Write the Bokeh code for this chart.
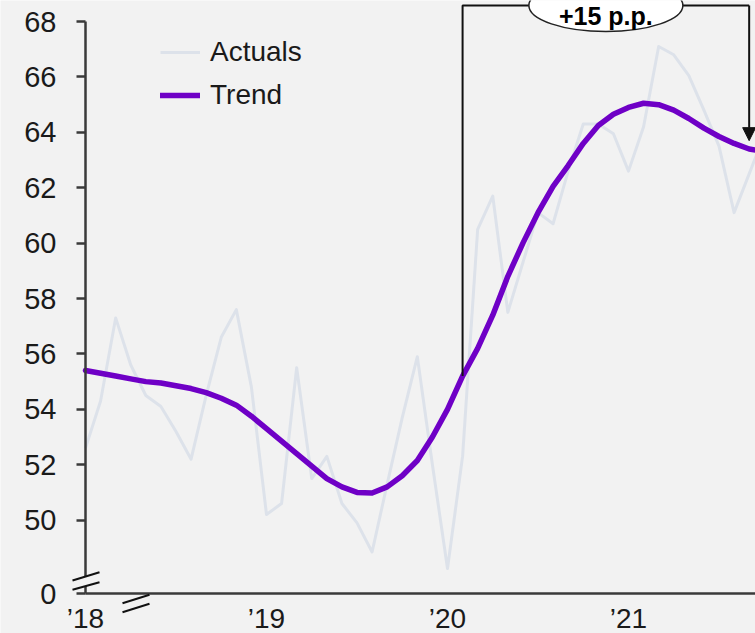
import numpy as np
from bokeh.plotting import figure
from bokeh.models import (Range1d, FixedTicker, Legend, LegendItem, Arrow,
                          NormalHead)
from bokeh.core.properties import value
from bokeh.embed import file_html
from bokeh.resources import INLINE

# ---- data -------------------------------------------------------------
start_year = 2018
month_index = list(range(46))  # monthly observations from Jan 2018

actuals = [52.6, 54.3, 57.3, 55.6, 54.5, 54.1, 53.2, 52.2, 54.5, 56.6,
           57.6, 54.8, 50.2, 50.6, 55.5, 51.5, 52.3, 50.6, 49.9, 48.85,
           51.3, 53.7, 55.9, 52.0, 48.25, 52.3, 60.5, 61.7, 57.5, 59.3,
           61.1, 60.7, 62.6, 64.3, 64.3, 63.95, 62.6, 64.2, 67.1, 66.8,
           66.05, 64.8, 63.5, 61.1, 62.5, 63.9]

trend = [55.4, 55.3, 55.2, 55.1, 55.0, 54.95, 54.85, 54.75, 54.6, 54.4,
         54.15, 53.75, 53.3, 52.85, 52.4, 51.95, 51.5, 51.2, 51.0, 50.98,
         51.2, 51.6, 52.15, 53.0, 54.0, 55.2, 56.2, 57.4, 58.8, 60.0,
         61.1, 62.05, 62.8, 63.6, 64.25, 64.65, 64.9, 65.05, 65.0, 64.8,
         64.5, 64.15, 63.85, 63.6, 63.4, 63.3]

year_ticks = [2018, 2019, 2020, 2021]
year_labels = ["\u201918", "\u201919", "\u201920", "\u201921"]
y_ticks = [50, 52, 54, 56, 58, 60, 62, 64, 66, 68]
axis_break_value = 47.35          # where the broken axis shows "0"
change_label = "+15 p.p."
change_from, change_to = 25, 44   # months joined by the bracket

x = [start_year + i / 12 for i in month_index]

# ---- styling / layout --------------------------------------------------
BG = "#f2f2f2"
TEXT = "#1a1a1a"
AXIS = "#3a3a3a"
ACT_COLOR = "#dde2ea"
TREND_COLOR = "#6f00c6"
FONT = "Liberation Sans"

W, H = 755, 633
AXIS_X_PX, AXIS_Y_PX = 85, 593     # where the two axis lines sit
px_per_year = 181.0
y_top = 68.76
px_per_unit = AXIS_Y_PX / (y_top - axis_break_value)
x_start = start_year - AXIS_X_PX / px_per_year
x_end = x_start + W / px_per_year
y_start = y_top - H / px_per_unit


def px_x(px):
    """canvas pixel column -> data x"""
    return x_start + px / px_per_year


def px_y(py):
    """canvas pixel row -> data y"""
    return y_top - py / px_per_unit


p = figure(width=W, height=H, output_backend="svg", toolbar_location=None,
           x_range=Range1d(x_start, x_end), y_range=Range1d(y_start, y_top),
           min_border=0, background_fill_color=BG, border_fill_color=BG,
           outline_line_color=None)
p.grid.visible = False

# y axis, pinned at the first month
p.yaxis.fixed_location = start_year
p.yaxis.ticker = FixedTicker(ticks=[axis_break_value] + y_ticks)
p.yaxis.major_label_overrides = {axis_break_value: "0"}
p.yaxis.bounds = (axis_break_value, 68)
p.yaxis.minor_tick_line_color = None
p.yaxis.major_tick_in = 0
p.yaxis.major_tick_out = 9
p.yaxis.major_label_standoff = 20
p.yaxis.major_tick_line_color = AXIS

# x axis, pinned at the axis break
p.xaxis.fixed_location = axis_break_value
p.xaxis.ticker = FixedTicker(ticks=year_ticks)
p.xaxis.major_label_overrides = dict(zip(year_ticks, year_labels))
p.xaxis.bounds = (start_year, x_end)
p.xaxis.minor_tick_line_color = None
p.xaxis.major_tick_line_color = None
p.xaxis.major_tick_in = 0
p.xaxis.major_tick_out = 0
p.xaxis.major_label_standoff = 9
p.xaxis.major_label_text_line_height = 1.0

for ax in (p.xaxis, p.yaxis):
    ax.axis_line_color = AXIS
    ax.axis_line_width = 2.5
    ax.major_tick_line_width = 2.5
    ax.major_label_text_font = FONT
    ax.major_label_text_font_size = "29px"
    ax.major_label_text_color = TEXT
p.xaxis.major_label_text_font_size = "28px"

# series
r_act = p.line(x, actuals, color=ACT_COLOR, line_width=3, line_join="round")
r_trend = p.line(x, trend, color=TREND_COLOR, line_width=5.5,
                 line_join="round", line_cap="round")

legend = Legend(items=[LegendItem(label="Actuals", renderers=[r_act]),
                       LegendItem(label="Trend", renderers=[r_trend])],
                location=(160, 522), background_fill_alpha=0,
                border_line_color=None, padding=0, margin=0, spacing=11,
                glyph_width=40, glyph_height=20, label_height=20,
                label_standoff=10, label_text_font=FONT,
                label_text_font_size="28px", label_text_color=TEXT)
p.add_layout(legend)

# change bracket
xl, xr = x[change_from], x[change_to]
top_y = px_y(5)
p.line([xl, xl, xr], [trend[change_from], top_y, top_y],
       color="#111111", line_width=2)
p.add_layout(Arrow(end=NormalHead(size=13, fill_color="#111111",
                                  line_color="#111111"),
                   x_start=xr, y_start=top_y, x_end=xr,
                   y_end=trend[change_to] + 0.3,
                   line_color="#111111", line_width=2))
xm = (xl + xr) / 2
p.ellipse(x=[xm], y=[top_y], width=154 / px_per_year,
          height=52 / px_per_unit, fill_color="white",
          line_color="#222222", line_width=1.5)
p.text(x=[xm], y=[px_y(15)], text=[change_label],
       text_font=value(FONT), text_font_style="bold",
       text_font_size="25px", text_color="#000000",
       text_align="center", text_baseline="alphabetic")


# axis break marks, drawn above the axis lines
def break_mark(x0, x1, y_hi0, y_hi1, y_lo0, y_lo1):
    band = p.patch([px_x(x0), px_x(x1), px_x(x1), px_x(x0)],
                   [px_y(y_hi0), px_y(y_hi1), px_y(y_lo1), px_y(y_lo0)],
                   fill_color=BG, line_color=None)
    band.level = "overlay"
    for a, b in ((y_hi0, y_hi1), (y_lo0, y_lo1)):
        edge = p.line([px_x(x0), px_x(x1)], [px_y(a), px_y(b)],
                      color="#111111", line_width=2)
        edge.level = "overlay"


break_mark(72, 99, 580, 571.7, 589.3, 581.7)
break_mark(122, 149, 602.7, 594.3, 611.7, 603.3)

open("out.html", "w").write(file_html(p, INLINE))
